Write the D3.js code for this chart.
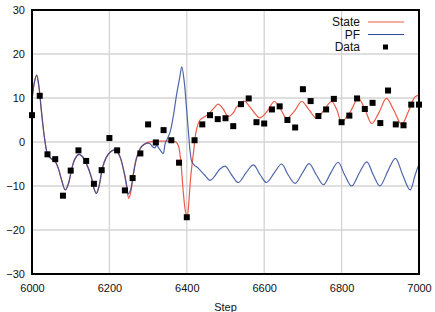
<!doctype html>
<html lang="en">
<head>
<meta charset="UTF-8">
<title>State / PF / Data</title>
<script src="https://cdn.jsdelivr.net/npm/d3@7"></script>
<style>
  body { margin: 0; background: #fff; }
  text { font-family: "Liberation Sans", Arial, sans-serif; }
</style>
</head>
<body>
<div class="canvas"></div>
<script>
  // --- data ---
  const xTicks = [6000, 6200, 6400, 6600, 6800, 7000];
  const yTicks = [-30, -20, -10, 0, 10, 20, 30];

  const stateSteps = [6000, 6006, 6012, 6018, 6024, 6033, 6041, 6050, 6059, 6068, 6076, 6086, 6094, 6102, 6110, 6121,
    6130, 6140, 6153, 6160, 6166, 6172, 6183, 6192, 6201, 6212, 6220, 6228, 6240, 6245, 6250, 6255, 6262, 6271,
    6283, 6296, 6310, 6330, 6350, 6370, 6378, 6384, 6391, 6397, 6401, 6405, 6410, 6417, 6425, 6434, 6445, 6456,
    6470, 6481, 6494, 6507, 6520, 6529, 6549, 6563, 6589, 6608, 6626, 6642, 6658, 6678, 6697, 6716, 6735, 6755,
    6774, 6787, 6800, 6822, 6843, 6860, 6878, 6897, 6916, 6935, 6955, 6972, 6990, 7000];
  const stateVals = [9.5, 13.5, 15.2, 12.5, 7.3, 0.5, -3, -3.8, -4.3, -6, -8.5, -10.9, -9.5, -6.4, -4, -2.8,
    -3.3, -4.8, -7.9, -10.5, -11.7, -10.5, -5.6, -3.5, -2.4, -1.8, -2.2, -3.5, -7.9, -10.5, -12.8, -11.5, -7.1, -3.3,
    -1.1, -0.2, 0.1, 0.2, 0.2, 0.1, -0.8, -4, -11.5, -16, -17, -14, -8, -2.6, 2.8, 5.0, 5.7, 6.3,
    7.7, 8.6, 7.5, 5.8, 6.6, 8.0, 9.3, 8.0, 5.5, 7.0, 9.2, 7.5, 5.4, 7.0, 9.2, 7.3, 5.4, 7.3,
    9.2, 7.5, 4.6, 6.8, 9.9, 7.5, 4.2, 6.8, 9.9, 7.2, 4.0, 6.8, 10.3, 10.6];

  const pfSteps = [6000, 6006, 6012, 6018, 6024, 6033, 6041, 6050, 6059, 6068, 6076, 6086, 6094, 6102, 6110, 6121,
    6130, 6140, 6153, 6160, 6166, 6172, 6183, 6192, 6201, 6212, 6220, 6228, 6240, 6245, 6249, 6255, 6262, 6271,
    6283, 6296, 6305, 6313, 6318, 6322, 6326, 6331, 6339, 6344, 6350, 6357, 6365, 6374, 6382, 6387, 6393, 6399,
    6404, 6409, 6413, 6420, 6430, 6446, 6460, 6470, 6485, 6499, 6516, 6533, 6553, 6572, 6590, 6606, 6626, 6645,
    6662, 6680, 6699, 6716, 6735, 6753, 6772, 6791, 6808, 6826, 6846, 6865, 6882, 6899, 6920, 6939, 6958, 6977,
    6990, 7000];
  const pfVals = [9.5, 13.5, 15.2, 12.5, 7.3, 0.5, -3, -3.8, -4.3, -6, -8.5, -10.9, -9.5, -6.4, -4, -2.8,
    -3.3, -4.8, -7.9, -10.5, -11.7, -10.5, -5.6, -3.5, -2.4, -1.8, -2.2, -3.5, -7.6, -10, -11.8, -10.8, -7.3, -3.5,
    -1.0, -0.3, -0.4, -1.2, -1.3, -0.7, -1.2, -1.8, -2.6, -0.4, 0.8, 2.3, 5.8, 11, 14.8, 17.1, 14, 8,
    2.5, -2.5, -4.5, -5.3, -6, -7.5, -8.7, -8.0, -6.2, -5.5, -7.5, -9.2, -7.0, -5.2, -7.5, -9.2, -7.0, -5.0,
    -7.5, -9.4, -7.0, -4.9, -7.5, -9.7, -7.0, -4.6, -7.5, -10, -7.0, -4.5, -7.5, -10, -6.5, -3.7, -7.5, -10.9,
    -7.5, -5.0];

  const dataSteps = [6000, 6020, 6040, 6060, 6080, 6100, 6120, 6140, 6160, 6180, 6200, 6220, 6240, 6260, 6280,
    6300, 6320, 6340, 6360, 6380, 6400, 6420, 6440, 6460, 6480, 6500, 6520, 6540, 6560, 6580, 6600, 6620, 6640,
    6660, 6680, 6700, 6720, 6740, 6760, 6780, 6800, 6820, 6840, 6860, 6880, 6900, 6920, 6940, 6960, 6980, 7000];
  const dataVals = [6.1, 10.5, -2.8, -3.9, -12.2, -6.5, -1.9, -4.3, -9.5, -6.4, 0.9, -1.9, -11, -8.2, -2.6,
    4.0, -0.1, 2.7, 0.4, -4.7, -17.1, 0.4, 4.0, 6.1, 5.2, 5.4, 3.6, 8.6, 9.9, 4.5, 4.2, 7.4, 8.1,
    5.0, 3.3, 12.0, 9.3, 5.9, 7.4, 9.8, 4.5, 6.0, 9.9, 7.5, 8.9, 4.3, 11.7, 4.0, 3.8, 8.5, 8.5];

  const legendNames = ['State', 'PF', 'Data'];

  // --- layout ---
  const width = 435, height = 312;
  const [mt, mr, mb, ml] = [10, 16, 38, 32];
  const gw = width - ml - mr;
  const gh = height - mt - mb;
  const red = '#ec5a46', blue = '#2f4c9e';

  const svg = d3.select('.canvas').append('svg')
    .attr('width', width)
    .attr('height', height);

  const g = svg.append('g').attr('transform', `translate(${ml},${mt})`);

  const x = d3.scaleLinear().domain([6000, 7000]).range([0, gw]);
  const y = d3.scaleLinear().domain([-30, 30]).range([gh, 0]);

  // grid
  g.append('g').selectAll('line')
    .data(xTicks.slice(1, -1))
    .join('line')
    .attr('x1', d => x(d)).attr('x2', d => x(d))
    .attr('y1', 0).attr('y2', gh)
    .attr('stroke', '#d4d4d4').attr('stroke-width', 1.3);
  g.append('g').selectAll('line')
    .data(yTicks.slice(1, -1))
    .join('line')
    .attr('x1', 0).attr('x2', gw)
    .attr('y1', d => y(d)).attr('y2', d => y(d))
    .attr('stroke', '#d4d4d4').attr('stroke-width', 1.3);

  // axes (labels only, border drawn separately)
  const xAxis = d3.axisBottom(x).tickValues(xTicks).tickFormat(d3.format('d')).tickSize(0).tickPadding(10);
  const yAxis = d3.axisLeft(y).tickValues(yTicks).tickFormat(d3.format('d')).tickSize(0).tickPadding(7);
  const xAxisG = g.append('g').attr('transform', `translate(0,${gh})`).call(xAxis);
  const yAxisG = g.append('g').call(yAxis);
  [xAxisG, yAxisG].forEach(a => {
    a.select('.domain').remove();
    a.selectAll('text')
      .attr('fill', '#111')
      .style('font-size', '11px')
      .style('font-family', '"Liberation Sans", Arial, sans-serif');
  });

  g.append('text')
    .attr('x', gw / 2)
    .attr('y', gh + 37)
    .attr('text-anchor', 'middle')
    .style('font-size', '11px')
    .attr('fill', '#111')
    .text('Step');

  // curves
  const line = d3.line()
    .x(d => x(d[0]))
    .y(d => y(d[1]))
    .curve(d3.curveCatmullRom.alpha(0.5));

  g.append('path')
    .datum(d3.zip(stateSteps, stateVals))
    .attr('d', line)
    .attr('fill', 'none')
    .attr('stroke', red)
    .attr('stroke-width', 1.2);

  g.append('path')
    .datum(d3.zip(pfSteps, pfVals))
    .attr('d', line)
    .attr('fill', 'none')
    .attr('stroke', blue)
    .attr('stroke-width', 1.2)
    .attr('stroke-opacity', 0.85);

  // data squares
  const sq = 6;
  g.append('g').selectAll('rect')
    .data(d3.zip(dataSteps, dataVals))
    .join('rect')
    .attr('x', d => x(d[0]) - sq / 2)
    .attr('y', d => y(d[1]) - sq / 2)
    .attr('width', sq).attr('height', sq)
    .attr('fill', '#000');

  // border
  g.append('rect')
    .attr('x', 0).attr('y', 0)
    .attr('width', gw).attr('height', gh)
    .attr('fill', 'none')
    .attr('stroke', '#000')
    .attr('stroke-width', 2);

  // legend
  const legend = g.append('g').attr('transform', `translate(${gw - 59},12)`);
  legendNames.forEach((name, i) => {
    const row = legend.append('g').attr('transform', `translate(0,${i * 12.5})`);
    row.append('text')
      .attr('x', 0).attr('y', 4)
      .attr('text-anchor', 'end')
      .style('font-size', '12px')
      .attr('fill', '#111')
      .text(name);
    if (i < 2) {
      row.append('line')
        .attr('x1', 8).attr('x2', 44)
        .attr('y1', 0).attr('y2', 0)
        .attr('stroke', i === 0 ? red : blue)
        .attr('stroke-width', 1.2);
    } else {
      row.append('rect')
        .attr('x', 23).attr('y', -2.5)
        .attr('width', 5).attr('height', 5)
        .attr('fill', '#000');
    }
  });
</script>
</body>
</html>
